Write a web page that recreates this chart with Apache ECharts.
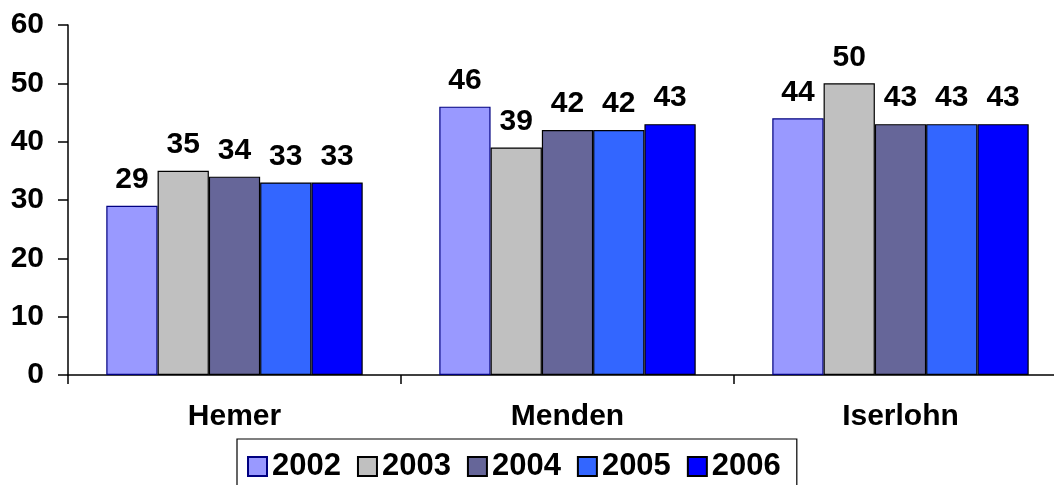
<!DOCTYPE html>
<html>
<head>
<meta charset="utf-8">
<script src="https://cdn.jsdelivr.net/npm/echarts@6/dist/echarts.min.js"></script>
<style>
    html, body { margin: 0; padding: 0; background: #fff; overflow: hidden; }
    /* plot runs a bit past the right edge in the original, so the canvas is wider than the window */
    #chart { width: 1067px; height: 485px; }
</style>
</head>
<body>
<div id="chart"></div>
<script>
"use strict";
var cities = ["Hemer", "Menden", "Iserlohn"];
var years = ["2002", "2003", "2004", "2005", "2006"];
var v2002 = [29, 46, 44];
var v2003 = [35, 39, 50];
var v2004 = [34, 42, 43];
var v2005 = [33, 42, 43];
var v2006 = [33, 43, 43];
var yTicks = [0, 10, 20, 30, 40, 50, 60];

var values = [v2002, v2003, v2004, v2005, v2006];
var fills = ["#9999FF", "#C0C0C0", "#666699", "#3366FF", "#0000FF"];
var borders = ["#000080", "#000000", "#000000", "#000000", "#000000"];
var font = "'Liberation Sans', Arial, sans-serif";

var series = years.map(function (y, i) {
    return {
        name: y,
        type: 'bar',
        data: values[i],
        barGap: '0%',
        barCategoryGap: '23%',
        itemStyle: { color: fills[i], borderColor: borders[i], borderWidth: 1.2 },
        label: {
            show: true,
            position: 'top',
            distance: 11,
            color: '#000',
            fontSize: 30,
            fontWeight: 'bold',
            fontFamily: font
        }
    };
});

var chart = echarts.init(document.getElementById('chart'));
chart.setOption({
    animation: false,
    grid: { left: 68, top: 25, bottom: 110, right: 0 },
    legend: {
        data: years,
        left: 237,
        top: 439,
        padding: [12, 16, 24, 10],
        itemGap: 16,
        itemWidth: 19,
        itemHeight: 19,
        icon: 'rect',
        borderColor: '#000',
        borderWidth: 1.2,
        textStyle: { color: '#000', fontSize: 31, fontWeight: 'bold', fontFamily: font }
    },
    xAxis: {
        type: 'category',
        data: cities,
        axisLine: { lineStyle: { color: '#000', width: 1.5 } },
        axisTick: { show: true, length: 9, lineStyle: { color: '#000', width: 1.5 } },
        axisLabel: { margin: 27, color: '#000', fontSize: 30, fontWeight: 'bold', fontFamily: font }
    },
    yAxis: {
        type: 'value',
        min: yTicks[0],
        max: yTicks[yTicks.length - 1],
        interval: 10,
        axisLine: { show: true, lineStyle: { color: '#000', width: 1.5 } },
        axisTick: { show: true, length: 10, lineStyle: { color: '#000', width: 1.5 } },
        splitLine: { show: false },
        axisLabel: { margin: 24, color: '#000', fontSize: 30, fontWeight: 'bold', fontFamily: font }
    },
    series: series
});
</script>
</body>
</html>
